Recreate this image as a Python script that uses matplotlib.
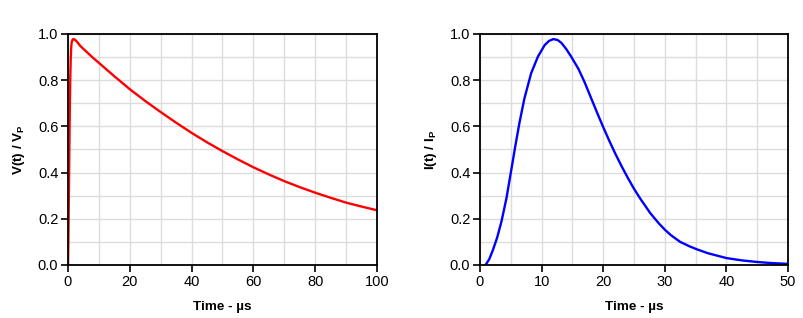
import numpy as np
import matplotlib
matplotlib.use("Agg")
import matplotlib.pyplot as plt
from matplotlib.ticker import MultipleLocator, FormatStrFormatter

plt.rcParams['font.family'] = ['Liberation Sans', 'DejaVu Sans']
plt.rcParams['mathtext.fontset'] = 'custom'
plt.rcParams['mathtext.rm'] = 'Liberation Sans'
plt.rcParams['mathtext.bf'] = 'Liberation Sans:bold'

# voltage waveform
v_time = [0, 0.15, 0.3, 0.45, 0.6, 0.75, 0.9, 1.05, 1.2, 1.45, 1.7, 2.2, 3, 4, 6, 8, 10, 12.5,
          15, 17.5, 20, 25, 30, 35, 40, 45, 50, 55, 60, 65, 70, 75, 80, 85, 90, 95, 100]
v_value = [0, 0.15, 0.32, 0.52, 0.69, 0.82, 0.9, 0.945, 0.965, 0.975, 0.978, 0.976, 0.965, 0.948,
           0.923, 0.898, 0.875, 0.846, 0.817, 0.789, 0.761, 0.710, 0.662, 0.616, 0.572, 0.531,
           0.493, 0.457, 0.423, 0.392, 0.363, 0.337, 0.313, 0.291, 0.270, 0.253, 0.237]

# current waveform
i_time = [0.9, 1.5, 2.1, 2.8, 3.5, 4.3, 5.1, 5.7, 6.4, 7.2, 8.3, 9.4, 10.5, 11.2, 11.9, 12.6,
          13.2, 14, 14.8, 16, 17, 18, 19, 20, 21, 22, 23, 24, 25, 26, 27.6, 29, 30, 31, 32.5, 34,
          35.2, 37, 40, 42.5, 45, 47.5, 50]
i_value = [0.0, 0.025, 0.065, 0.12, 0.19, 0.29, 0.415, 0.51, 0.615, 0.72, 0.83, 0.902, 0.952,
           0.97, 0.978, 0.974, 0.962, 0.935, 0.902, 0.848, 0.79, 0.725, 0.66, 0.597, 0.537, 0.48,
           0.427, 0.377, 0.33, 0.288, 0.226, 0.181, 0.153, 0.129, 0.1, 0.081, 0.068, 0.051, 0.03,
           0.02, 0.013, 0.008, 0.005]

fig = plt.figure(figsize=(8.04, 3.18), dpi=100)
ax1 = fig.add_axes([68/804, 1-265/318, 309/804, 231/318])
ax2 = fig.add_axes([480/804, 1-265/318, 308/804, 231/318])


def style(ax, xmax, major, minor):
    ax.set_xlim(0, xmax)
    ax.set_ylim(0, 1)
    ax.xaxis.set_major_locator(MultipleLocator(major))
    ax.xaxis.set_minor_locator(MultipleLocator(minor))
    ax.yaxis.set_major_locator(MultipleLocator(0.2))
    ax.yaxis.set_minor_locator(MultipleLocator(0.1))
    ax.yaxis.set_major_formatter(FormatStrFormatter('%.1f'))
    ax.grid(which='both', color='#dcdcdc', linewidth=1)
    ax.set_axisbelow(True)
    ax.tick_params(which='minor', length=0)
    ax.tick_params(which='major', length=5, width=1.2, labelsize=10.5, direction='out', pad=2)
    for s in ax.spines.values():
        s.set_linewidth(1.3)
    ax.set_xlabel('Time - µs', fontweight='bold', fontsize=9.7, labelpad=9)


ax1.plot(v_time, v_value, color='#ff0000', linewidth=1.7)
style(ax1, 100, 20, 10)
ax1.set_ylabel(r'V(t) / V$_\mathbf{P}$', fontweight='bold', fontsize=9.7, labelpad=8)

ax2.plot(i_time, i_value, color='#0000ff', linewidth=1.7)
style(ax2, 50, 10, 5)
ax2.set_ylabel(r'I(t) / I$_\mathbf{P}$', fontweight='bold', fontsize=9.7, labelpad=8)

fig.savefig('out.png', dpi=100)
